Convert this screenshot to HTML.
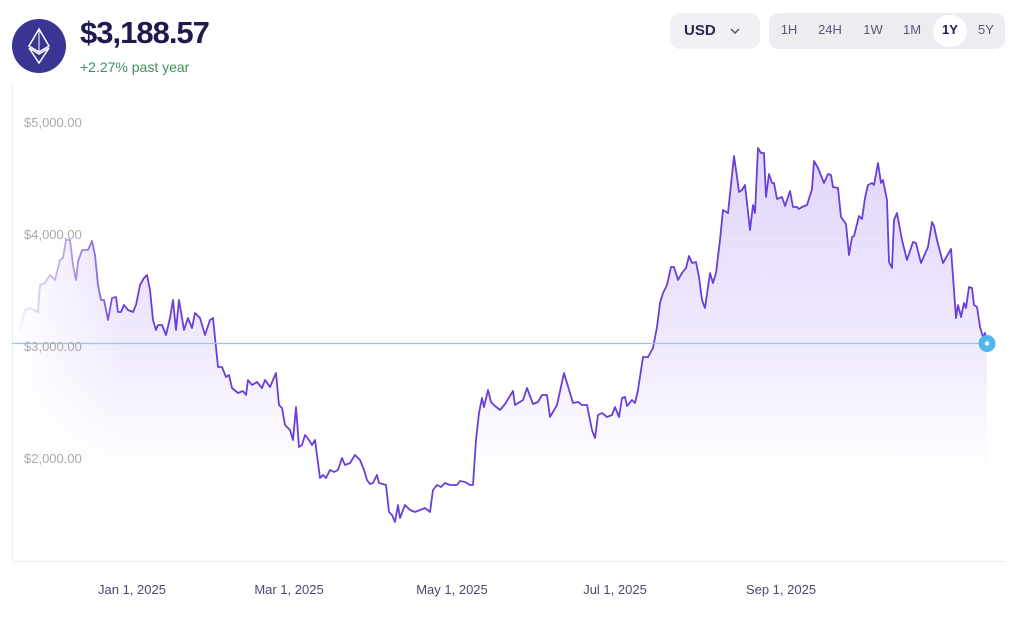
<!DOCTYPE html>
<html><head><meta charset="utf-8"><style>
body{margin:0;width:1024px;height:619px;background:#fff;font-family:"Liberation Sans",sans-serif;position:relative;overflow:hidden}
.a{position:absolute}
.yl{position:absolute;left:24px;font-size:13px;color:#a9a9b0;z-index:5}
.xl{position:absolute;top:582px;font-size:13px;color:#4a4870;transform:translateX(-50%);white-space:nowrap}
.tb{position:absolute;top:22px;font-size:13px;color:#5a5878;transform:translateX(-50%)}
</style></head><body>
<div class="a" style="left:12px;top:19px;width:54px;height:54px;border-radius:50%;background:#3a3592"></div>
<svg class="a" style="left:12px;top:19px" width="54" height="54"><polygon points="27,10 37,27 27,33 17,27" fill="none" stroke="#fff" stroke-width="1.5"/><polygon points="17,29 27,35 37,29 27,44" fill="none" stroke="#fff" stroke-width="1.5"/><line x1="27" y1="10" x2="27" y2="33" stroke="#fff" stroke-width="1"/></svg>
<div class="a" style="left:80px;top:15px;font-size:31px;font-weight:bold;color:#1e1a4d;letter-spacing:-1px">$3,188.57</div>
<div class="a" style="left:80px;top:59px;font-size:14px;color:#3f8f5a">+2.27% past year</div>
<div class="a" style="left:670px;top:13px;width:90px;height:36px;border-radius:10px;background:#f1f1f5"></div>
<div class="a" style="left:684px;top:22px;font-size:15px;font-weight:bold;color:#2a2850">USD</div>
<svg class="a" style="left:729px;top:26px" width="12" height="10"><polyline points="2,3 6,7 10,3" fill="none" stroke="#555" stroke-width="1.5"/></svg>
<div class="a" style="left:769px;top:13px;width:236px;height:36px;border-radius:10px;background:#ececf1"></div>
<div class="a" style="left:933px;top:15px;width:34px;height:32px;border-radius:16px;background:#fff"></div>
<div class="tb" style="left:789px">1H</div><div class="tb" style="left:830px">24H</div><div class="tb" style="left:873px">1W</div><div class="tb" style="left:912px">1M</div><div class="tb" style="left:950px;color:#1e1a4d;font-weight:bold">1Y</div><div class="tb" style="left:986px">5Y</div>
<div class="a" style="left:12px;top:85px;width:1px;height:477px;background:#eeeef2"></div>
<div class="a" style="left:12px;top:561px;width:993px;height:1px;background:#eeeef2"></div>
<div class="xl" style="left:132px">Jan 1, 2025</div><div class="xl" style="left:289px">Mar 1, 2025</div><div class="xl" style="left:452px">May 1, 2025</div><div class="xl" style="left:615px">Jul 1, 2025</div><div class="xl" style="left:781px">Sep 1, 2025</div>
<svg class="a" style="left:0;top:0" width="1024" height="619">
<defs>
<linearGradient id="f" x1="0" y1="0" x2="0" y2="1" gradientUnits="objectBoundingBox"><stop offset="0" stop-color="#ddd0fa" stop-opacity="0.9"/><stop offset="0.6" stop-color="#efe9fc" stop-opacity="0.8"/><stop offset="1" stop-color="#fff" stop-opacity="0"/></linearGradient>
<linearGradient id="h" x1="0" y1="0" x2="1024" y2="0" gradientUnits="userSpaceOnUse"><stop offset="0.01" stop-color="#fff" stop-opacity="0"/><stop offset="0.12" stop-color="#fff" stop-opacity="1"/></linearGradient>
<mask id="m"><rect x="0" y="0" width="1024" height="619" fill="url(#h)"/></mask>
</defs>
<g mask="url(#m)">
<polygon fill="url(#f)" points="20,470 20,330 25,310 30,308 38,312 40,285 45,283 50,275 55,280 60,260 63,258 66,240 70,240 73,265 76,280 78,262 82,250 88,250 92,241 95,255 98,285 101,300 104,300 108,320 112,298 116,297 118,312 121,312 124,305 128,310 133,312 136,305 140,285 144,278 147,275 150,290 153,320 156,330 158,325 162,325 166,335 170,318 173,300 176,330 179,300 184,330 188,318 192,328 195,313 200,318 205,335 210,320 213,318 218,367 222,367 226,377 229,375 232,388 238,393 243,391 246,395 248,380 252,385 257,382 262,388 265,380 270,387 276,373 279,405 282,408 285,425 290,430 293,440 296,407 299,447 302,445 305,435 309,440 312,445 315,440 320,478 323,475 326,478 330,470 334,472 338,470 342,458 345,465 350,463 355,455 360,460 364,470 367,480 370,484 373,483 377,475 379,483 386,485 389,512 392,515 395,522 398,505 400,518 405,505 410,510 415,512 420,510 425,508 430,512 433,490 437,485 441,487 445,483 450,485 457,485 460,481 465,482 470,485 473,485 476,440 479,413 482,398 484,407 488,390 491,402 495,406 500,410 505,404 513,391 515,405 523,400 527,388 533,404 538,402 542,395 547,395 550,417 557,405 564,373 570,393 573,403 578,402 582,405 587,405 592,430 595,438 598,415 602,413 607,417 612,415 615,407 619,417 622,398 625,397 627,406 632,400 635,403 638,390 643,357 648,357 653,348 657,327 660,303 663,293 667,285 671,267 674,267 678,280 682,273 686,268 689,256 692,263 696,262 699,277 702,300 705,308 710,273 713,283 716,273 720,240 723,210 728,213 734,156 737,177 739,192 742,190 745,185 750,230 753,205 755,213 758,148 761,153 764,153 766,197 769,174 772,183 774,183 777,199 782,197 785,206 790,191 793,207 797,207 799,209 802,207 807,205 812,189 814,161 818,168 824,183 828,174 831,175 833,187 838,188 841,217 846,224 849,255 852,237 854,236 859,216 862,219 865,198 868,185 872,183 874,185 878,163 881,183 883,180 887,200 889,262 892,268 894,220 897,213 902,240 907,260 913,242 916,243 921,263 928,247 932,222 934,226 937,240 943,263 951,249 956,318 958,305 961,317 964,303 966,308 969,287 972,288 974,305 977,307 980,327 983,337 985,333 987,343 987,470"/>
<polyline fill="none" stroke="#6a3fd8" stroke-width="1.8" stroke-linejoin="round" points="20,330 25,310 30,308 38,312 40,285 45,283 50,275 55,280 60,260 63,258 66,240 70,240 73,265 76,280 78,262 82,250 88,250 92,241 95,255 98,285 101,300 104,300 108,320 112,298 116,297 118,312 121,312 124,305 128,310 133,312 136,305 140,285 144,278 147,275 150,290 153,320 156,330 158,325 162,325 166,335 170,318 173,300 176,330 179,300 184,330 188,318 192,328 195,313 200,318 205,335 210,320 213,318 218,367 222,367 226,377 229,375 232,388 238,393 243,391 246,395 248,380 252,385 257,382 262,388 265,380 270,387 276,373 279,405 282,408 285,425 290,430 293,440 296,407 299,447 302,445 305,435 309,440 312,445 315,440 320,478 323,475 326,478 330,470 334,472 338,470 342,458 345,465 350,463 355,455 360,460 364,470 367,480 370,484 373,483 377,475 379,483 386,485 389,512 392,515 395,522 398,505 400,518 405,505 410,510 415,512 420,510 425,508 430,512 433,490 437,485 441,487 445,483 450,485 457,485 460,481 465,482 470,485 473,485 476,440 479,413 482,398 484,407 488,390 491,402 495,406 500,410 505,404 513,391 515,405 523,400 527,388 533,404 538,402 542,395 547,395 550,417 557,405 564,373 570,393 573,403 578,402 582,405 587,405 592,430 595,438 598,415 602,413 607,417 612,415 615,407 619,417 622,398 625,397 627,406 632,400 635,403 638,390 643,357 648,357 653,348 657,327 660,303 663,293 667,285 671,267 674,267 678,280 682,273 686,268 689,256 692,263 696,262 699,277 702,300 705,308 710,273 713,283 716,273 720,240 723,210 728,213 734,156 737,177 739,192 742,190 745,185 750,230 753,205 755,213 758,148 761,153 764,153 766,197 769,174 772,183 774,183 777,199 782,197 785,206 790,191 793,207 797,207 799,209 802,207 807,205 812,189 814,161 818,168 824,183 828,174 831,175 833,187 838,188 841,217 846,224 849,255 852,237 854,236 859,216 862,219 865,198 868,185 872,183 874,185 878,163 881,183 883,180 887,200 889,262 892,268 894,220 897,213 902,240 907,260 913,242 916,243 921,263 928,247 932,222 934,226 937,240 943,263 951,249 956,318 958,305 961,317 964,303 966,308 969,287 972,288 974,305 977,307 980,327 983,337 985,333 987,343"/>
</g>
<line x1="12" y1="343.5" x2="987" y2="343.5" stroke="#86d0ef" stroke-width="1.2"/>
<circle cx="987" cy="343.5" r="8.5" fill="#4fb5ec"/>
<circle cx="987" cy="343.5" r="2.2" fill="#fff"/>
</svg>
<div class="yl" style="top:115px">$5,000.00</div><div class="yl" style="top:227px">$4,000.00</div><div class="yl" style="top:339px">$3,000.00</div><div class="yl" style="top:451px">$2,000.00</div>
</body></html>
